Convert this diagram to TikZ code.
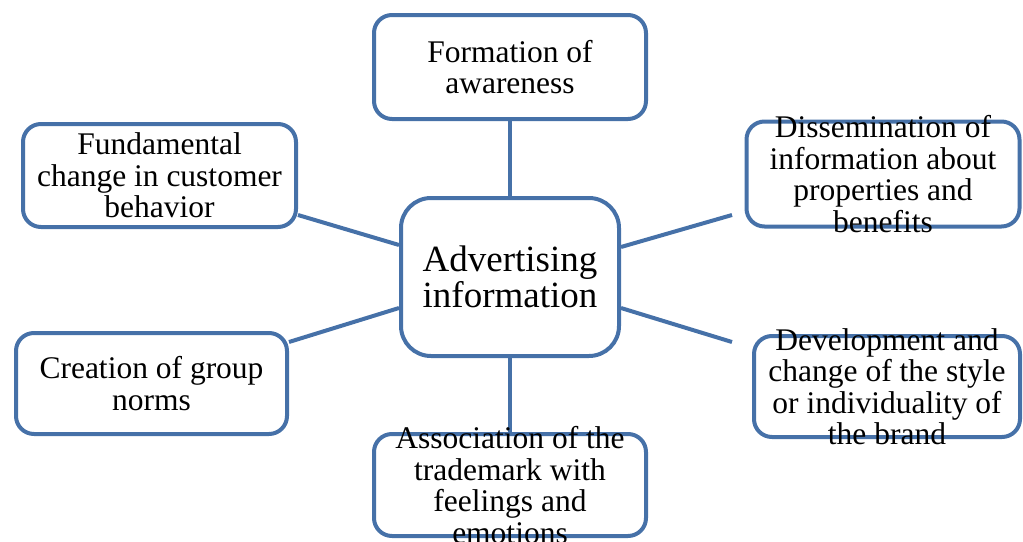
\documentclass[tikz,border=0pt]{standalone}
\usepackage{fontspec}
\setmainfont{Liberation Serif}
\usetikzlibrary{calc}
\definecolor{frame}{RGB}{70,113,168}
\begin{document}
\begin{tikzpicture}[x=1pt,y=-1pt,
  box/.style={draw=frame,line width=4pt,fill=white,rounded corners=18pt,inner sep=0pt},
  hub/.style={box,rounded corners=30pt},
  txt/.style={align=center,inner sep=0pt,font=\fontsize{31.5}{31.5}\selectfont},
  hubtxt/.style={align=center,inner sep=0pt,font=\fontsize{37}{36}\selectfont},
  link/.style={draw=frame,line width=4pt}]
\useasboundingbox (0,0) rectangle (1023,541);

% outer boxes
\node[box,minimum width=272pt,minimum height=104pt] (top)  at (510,67) {};
\node[box,minimum width=273pt,minimum height=105pt] (rtop) at (883,174) {};
\node[box,minimum width=266pt,minimum height=101pt] (rbot) at (887,386.5) {};
\node[box,minimum width=272pt,minimum height=102pt] (bot)  at (510,485) {};
\node[box,minimum width=273pt,minimum height=103pt] (ltop) at (159.5,175.5) {};
\node[box,minimum width=271pt,minimum height=101pt] (lbot) at (151.5,383.5) {};

% free ends of the right-hand spokes
\coordinate (rtend) at (732,215);
\coordinate (rbend) at (732,342);

% central box
\node[hub,minimum width=218pt,minimum height=158pt] (c) at (510,277) {};

% spokes
\draw[link] (top.south) -- (c.north);
\draw[link] (c.south) -- (bot.north);
\draw[link] ($(ltop.east)+(0,39.5)$) -- ($(c.west)+(0,-32)$);
\draw[link] ($(lbot.east)+(0,-41.5)$) -- ($(c.west)+(0,31)$);
\draw[link] ($(c.east)+(0,-30)$) -- (rtend);
\draw[link] ($(c.east)+(0,31)$) -- (rbend);

% labels
\node[hubtxt] at (c) {Advertising\\information};
\node[txt] at (top) {Formation of\\awareness};
\node[txt] at (rtop) {Dissemination of\\information about\\properties and\\benefits};
\node[txt] at (rbot) {Development and\\change of the style\\or individuality of\\the brand};
\node[txt] at (bot) {Association of the\\trademark with\\feelings and\\emotions};
\node[txt] at (ltop) {Fundamental\\change in customer\\behavior};
\node[txt] at (lbot) {Creation of group\\norms};
\end{tikzpicture}
\end{document}
